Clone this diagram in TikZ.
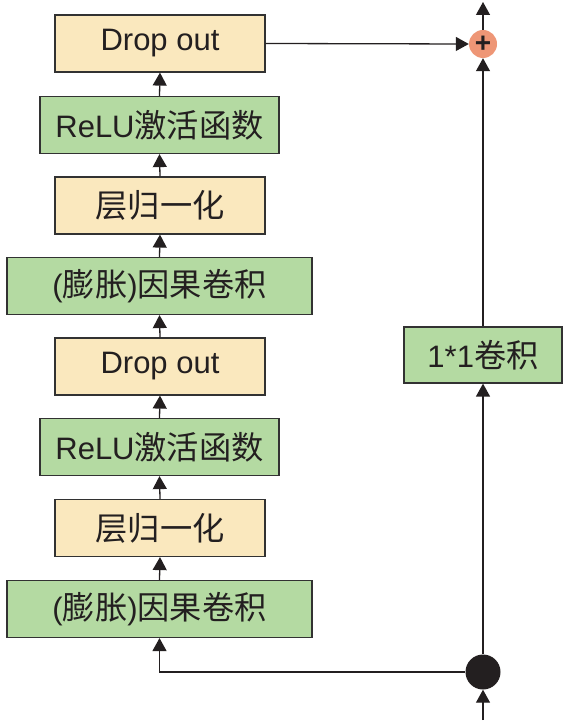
\documentclass[tikz,border=0pt]{standalone}
\usepackage{fontspec}
\setmainfont{Liberation Sans}
\newfontfamily\cjk{Noto Sans CJK SC}[Scale=1.04]
\usetikzlibrary{arrows.meta}
\definecolor{boxY}{RGB}{250,232,190}
\definecolor{boxG}{RGB}{180,218,162}
\definecolor{plusC}{RGB}{238,150,118}
\definecolor{edgeC}{RGB}{50,50,50}
\definecolor{txtC}{RGB}{35,31,32}
\begin{document}
\begin{tikzpicture}[x=1pt,y=-1pt,
 blk/.style={draw=edgeC, line width=1.2pt, minimum height=57pt, inner sep=0pt, font=\fontsize{31}{33}\selectfont, text=txtC},
 ybox/.style={blk, fill=boxY, minimum width=210pt},
 gbox/.style={blk, fill=boxG},
 conn/.style={draw=txtC, line width=1.3pt, -{Triangle[length=13pt,width=14pt]}}
]
\useasboundingbox (0,0) rectangle (571,727);
\node[ybox] (d2) at (160,43.5) {Drop out};
\node[gbox, minimum width=239pt] (r2) at (159.5,125) {ReLU{\cjk 激活函数}};
\node[ybox] (n2) at (160,205.5) {{\cjk 层归一化}};
\node[gbox, minimum width=305pt] (c2) at (159.5,286) {({\cjk 膨胀}){\cjk 因果卷积}};
\node[ybox] (d1) at (160,366.5) {Drop out};
\node[gbox, minimum width=239pt] (r1) at (159.5,447) {ReLU{\cjk 激活函数}};
\node[ybox] (n1) at (160,528) {{\cjk 层归一化}};
\node[gbox, minimum width=305pt] (c1) at (159.5,609) {({\cjk 膨胀}){\cjk 因果卷积}};
\node[gbox, minimum width=158pt, minimum height=56pt] (k) at (483,355) {1*1{\cjk 卷积}};
\node[circle, fill=plusC, minimum size=28pt, inner sep=0pt, font=\fontsize{28}{28}\selectfont\bfseries, text=txtC] (plus) at (483,44) {+};
\node[circle, fill=txtC, minimum size=35pt, inner sep=0pt] (dot) at (483,672) {};
\coordinate (top) at (483,2);
\coordinate (in) at (483,720);
\draw[conn] (c1.north) -- (n1.south);
\draw[conn] (n1.north) -- (r1.south);
\draw[conn] (r1.north) -- (d1.south);
\draw[conn] (d1.north) -- (c2.south);
\draw[conn] (c2.north) -- (n2.south);
\draw[conn] (n2.north) -- (r2.south);
\draw[conn] (r2.north) -- (d2.south);
\draw[conn] (d2.east) -- (plus.west);
\draw[conn] (plus.north) -- (top);
\draw[conn] (in) -- (dot.south);
\draw[conn] (dot.west) -| (c1.south);
\draw[conn] (dot.north) -- (k.south);
\draw[conn] (k.north) -- (plus.south);
\end{tikzpicture}
\end{document}
